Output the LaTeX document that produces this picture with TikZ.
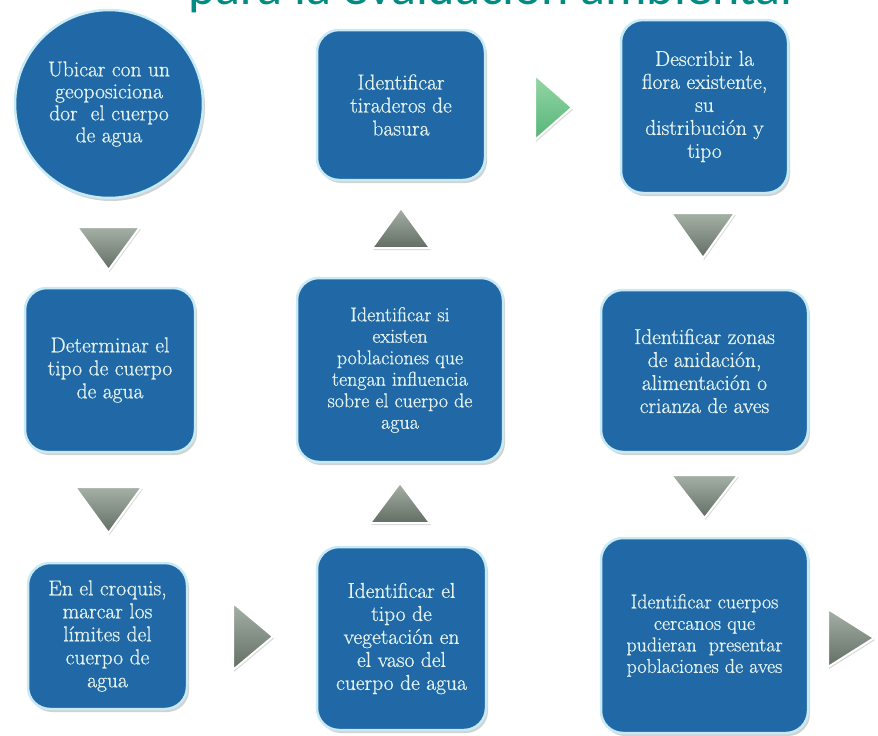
\documentclass[tikz,border=0pt]{standalone}
\usepackage{fontspec}
\newfontfamily\titlefont{Carlito}
\newfontfamily\boxfont{Latin Modern Roman}[FakeBold=0.8]
\usetikzlibrary{shadows}
\definecolor{boxblue}{RGB}{32,104,166}
\definecolor{boxrim}{RGB}{200,234,245}
\definecolor{boxtext}{RGB}{228,242,238}
\definecolor{trilight}{RGB}{165,176,166}
\definecolor{tridark}{RGB}{98,110,100}
\definecolor{grnlight}{RGB}{150,215,165}
\definecolor{grndark}{RGB}{85,180,120}
\definecolor{titleteal}{RGB}{0,140,130}
\tikzset{
  stepbox/.style={draw=boxrim, line width=2.5pt, fill=boxblue, rounded corners=22pt,
    align=center, text=boxtext, inner sep=2pt, font=\boxfont\fontsize{21.5}{23}\selectfont,
    drop shadow={opacity=0.35, shadow xshift=2pt, shadow yshift=-3pt}},
  stepcirc/.style={draw=boxrim, line width=2.5pt, fill=boxblue, circle, sharp corners,
    align=center, text=boxtext, inner sep=2pt, font=\boxfont\fontsize{21.5}{22}\selectfont,
    drop shadow={opacity=0.35, shadow xshift=2pt, shadow yshift=-3pt}},
  tightbox/.style={stepbox, font=\boxfont\fontsize{20}{21.5}\selectfont},
  tri/.style={draw=white, line width=2pt, top color=trilight, bottom color=tridark,
    drop shadow={opacity=0.3, shadow xshift=1pt, shadow yshift=-2pt}},
  trigreen/.style={tri, top color=grnlight, bottom color=grndark},
}
% triangles: name, cx, cy, width, height
\newcommand\tridown[6][tri]{\coordinate (#2) at (#3,#4);
  \path[#1] (#3-#5/2,#4-#6/2) -- (#3+#5/2,#4-#6/2) -- (#3,#4+#6/2) -- cycle;}
\newcommand\triup[6][tri]{\coordinate (#2) at (#3,#4);
  \path[#1] (#3-#5/2,#4+#6/2) -- (#3+#5/2,#4+#6/2) -- (#3,#4-#6/2) -- cycle;}
\newcommand\triright[6][tri]{\coordinate (#2) at (#3,#4);
  \path[#1] (#3-#5/2,#4-#6/2) -- (#3+#5/2,#4) -- (#3-#5/2,#4+#6/2) -- cycle;}
\begin{document}
\begin{tikzpicture}[x=1pt,y=-1pt]
\useasboundingbox (0,0) rectangle (878,736);
\clip (0,0) rectangle (878,736);
\fill[white] (0,0) rectangle (878,736);
% cut-off title
\node[anchor=base west, text=titleteal, inner sep=0pt,
  font=\titlefont\fontsize{52}{52}\selectfont] (title) at (188,5) {para la evaluación ambiental};
% steps
\node[stepcirc, minimum size=188pt] (c1) at (109,104)
  {Ubicar con un\\geoposiciona\\dor\ \ el cuerpo\\de agua};
\node[stepbox, minimum width=170pt, minimum height=164pt] (b2) at (110,370)
  {Determinar el\\tipo de cuerpo\\de agua};
\node[stepbox, minimum width=159pt, minimum height=146pt] (b3) at (107.5,636)
  {En el croquis,\\marcar los\\límites del\\cuerpo de\\agua};
\node[stepbox, minimum width=169pt, minimum height=183pt] (b4) at (401.5,638.5)
  {Identificar el\\tipo de\\vegetación en\\el vaso del\\cuerpo de agua};
\node[tightbox, minimum width=206pt, minimum height=184pt] (b5) at (400,370)
  {Identificar si\\existen\\poblaciones que\\tengan influencia\\sobre el cuerpo de\\agua};
\node[stepbox, minimum width=168pt, minimum height=150pt] (b6) at (401,105)
  {Identificar\\tiraderos de\\basura};
\node[stepbox, minimum width=167pt, minimum height=173pt] (b7) at (704.5,106.5)
  {Describir la\\flora existente,\\su\\distribución y\\tipo};
\node[stepbox, minimum width=207pt, minimum height=162pt] (b8) at (704.5,371)
  {Identificar zonas\\de anidación,\\alimentación o\\crianza de aves};
\node[tightbox, minimum width=207pt, minimum height=195pt] (b9) at (704.5,635.5)
  {Identificar cuerpos\\cercanos que\\pudieran\ \ presentar\\poblaciones de aves};
% arrow triangles
\tridown{t1}{108.5}{248.5}{63}{43}
\tridown{t2}{108.5}{510}{67}{46}
\triright{t3}{253}{636.5}{40}{67}
\triup{t4}{400}{503}{60}{40}
\triup{t5}{401}{228}{58}{40}
\triright[trigreen]{t6}{553.5}{107.5}{37}{65}
\tridown{t7}{703}{235.5}{64}{45}
\tridown{t8}{704.5}{496.5}{67}{43}
\triright{t9}{851}{638}{46}{58}
\end{tikzpicture}
\end{document}
